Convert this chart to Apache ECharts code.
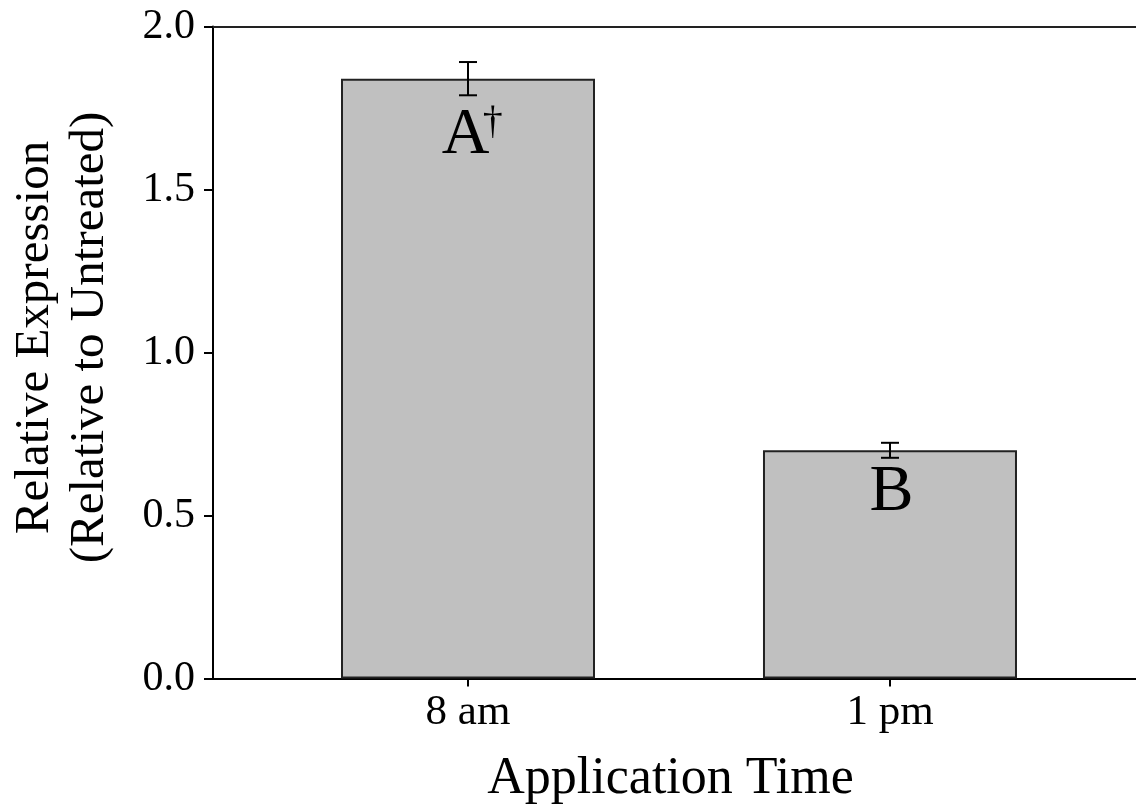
<!DOCTYPE html>
<html>
<head>
<meta charset="utf-8">
<style>
  html, body { margin: 0; padding: 0; background: #ffffff; }
  #chart { width: 1136px; height: 810px; }
</style>
<script src="https://cdn.jsdelivr.net/npm/echarts@6/dist/echarts.min.js"></script>
</head>
<body>
<div id="chart"></div>
<script>
// Relative expression by application time
const categories = ['8 am', '1 pm'];
const means = [1.84, 0.70];
const errors = [0.051, 0.023];
const groupLetters = ['A', 'B'];
const groupMarks = ['\u2020', ''];

const FONT = '"Liberation Serif", "Times New Roman", serif';
const positions = categories.map((c, i) => i + 1);
const X_MIN = 0.3957;
const X_MAX = 2.583;

const chart = echarts.init(document.getElementById('chart'), null, { renderer: 'canvas' });

const barData = categories.map((c, i) => ({
  value: [positions[i], means[i]],
  label: {
    distance: groupMarks[i] ? 24 : 9,
    offset: groupMarks[i] ? [7.5, 0] : [1.5, 0],
    formatter: groupMarks[i]
      ? '{aw|' + groupLetters[i] + '}{d|' + groupMarks[i] + '}'
      : '{a|' + groupLetters[i] + '}'
  }
}));

const errData = categories.map((c, i) => [positions[i], means[i], errors[i]]);

const option = {
  animation: false,
  backgroundColor: '#ffffff',
  grid: { left: 213, top: 26.5, right: 0, height: 652, outerBoundsMode: 'none', containLabel: false },
  xAxis: [
    {
      type: 'value',
      position: 'bottom',
      min: X_MIN,
      max: X_MAX,
      axisLine: { show: true, lineStyle: { color: '#000', width: 2 } },
      axisTick: { show: true, customValues: positions, length: 8, lineStyle: { color: '#000', width: 2 } },
      axisLabel: {
        show: true,
        customValues: positions,
        formatter: v => categories[Math.round(v) - 1],
        fontFamily: FONT, fontSize: 43, color: '#000', margin: 13
      },
      splitLine: { show: false },
      name: 'Application Time',
      nameLocation: 'middle',
      nameGap: 75,
      nameTextStyle: { fontFamily: FONT, fontSize: 52, color: '#000', padding: [0, 8, 0, 0] }
    },
    {
      type: 'value',
      position: 'top',
      min: X_MIN,
      max: X_MAX,
      axisLine: { show: true, lineStyle: { color: '#222', width: 2 } },
      axisTick: { show: false },
      axisLabel: { show: false },
      splitLine: { show: false }
    }
  ],
  yAxis: {
    type: 'value',
    min: 0,
    max: 2,
    interval: 0.5,
    axisLine: { show: true, lineStyle: { color: '#000', width: 2 } },
    axisTick: { show: true, inside: false, length: 9, lineStyle: { color: '#000', width: 2 } },
    axisLabel: {
      formatter: v => v.toFixed(1),
      fontFamily: FONT, fontSize: 42, color: '#000', margin: 18
    },
    splitLine: { show: false },
    name: 'Relative Expression\n(Relative to Untreated)',
    nameLocation: 'middle',
    nameGap: 95,
    nameTextStyle: { fontFamily: FONT, fontSize: 49, lineHeight: 55, color: '#000', padding: [0, 0, 0, 30] }
  },
  series: [
    {
      type: 'bar',
      xAxisIndex: 0,
      barWidth: 254,
      data: barData,
      itemStyle: { color: '#c0c0c0', borderColor: '#222', borderWidth: 2 },
      label: {
        show: true,
        position: 'insideTop',
        color: '#000',
        rich: {
          a: { fontFamily: FONT, fontSize: 66, lineHeight: 66, color: '#000' },
          aw: { fontFamily: FONT, fontSize: 66, lineHeight: 66, width: 34.5, color: '#000' },
          d: { fontFamily: FONT, fontSize: 40, lineHeight: 30, verticalAlign: 'top', color: '#000' }
        }
      },
      z: 2
    },
    {
      type: 'custom',
      xAxisIndex: 0,
      data: errData,
      z: 5,
      renderItem: function (params, api) {
        const x = api.value(0), y = api.value(1), e = api.value(2);
        const top = api.coord([x, y + e]);
        const bot = api.coord([x, y - e]);
        const hw = 9;
        const style = { stroke: '#000', lineWidth: 2 };
        return {
          type: 'group',
          children: [
            { type: 'line', shape: { x1: top[0], y1: top[1], x2: bot[0], y2: bot[1] }, style },
            { type: 'line', shape: { x1: top[0] - hw, y1: top[1], x2: top[0] + hw, y2: top[1] }, style },
            { type: 'line', shape: { x1: bot[0] - hw, y1: bot[1], x2: bot[0] + hw, y2: bot[1] }, style }
          ]
        };
      }
    }
  ]
};

chart.setOption(option);
</script>
</body>
</html>
